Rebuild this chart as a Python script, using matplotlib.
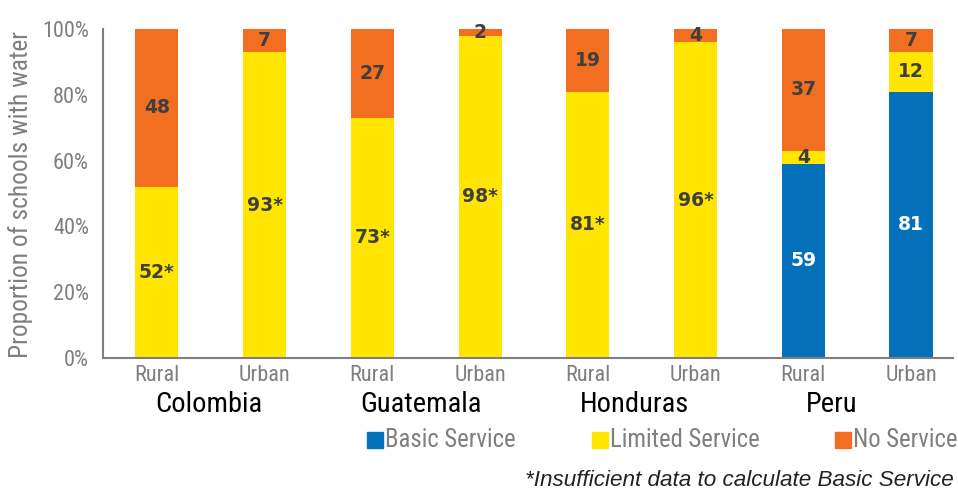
import matplotlib
matplotlib.use("Agg")
import matplotlib.pyplot as plt
from matplotlib import font_manager as fm
import numpy as np

available = {f.name for f in fm.fontManager.ttflist}
candidates = ["Roboto Condensed", "Liberation Sans Narrow", "Archivo Narrow",
              "PT Sans Narrow", "DejaVu Sans Condensed"]
chosen = [c for c in candidates if c in available][:1]
plt.rcParams['font.family'] = chosen + ['DejaVu Sans']

countries = ["Colombia", "Guatemala", "Honduras", "Peru"]
areas = ["Rural", "Urban", "Rural", "Urban", "Rural", "Urban", "Rural", "Urban"]
basic = [0, 0, 0, 0, 0, 0, 59, 81]
limited = [52, 93, 73, 98, 81, 96, 4, 12]
no_service = [48, 7, 27, 2, 19, 4, 37, 7]
limited_labels = ["52*", "93*", "73*", "98*", "81*", "96*", "4", "12"]
series_names = ["Basic Service", "Limited Service", "No Service"]
footnote = "*Insufficient data to calculate Basic Service"
ylabel = "Proportion of schools with water"

c_blue = "#0571BB"
c_yellow = "#FFE500"
c_orange = "#F26F21"
gray = "#7F7F7F"
dark = "#3F3F3F"

fig = plt.figure(figsize=(9.58, 4.92), dpi=100)
ax = fig.add_axes([0.1075, 0.2724, 0.8873, 0.6686])

x = np.arange(len(areas))
w = 0.4
b = np.array(basic, dtype=float)
l = np.array(limited, dtype=float)
n = np.array(no_service, dtype=float)

ax.bar(x, b, w, color=c_blue)
ax.bar(x, l, w, bottom=b, color=c_yellow)
ax.bar(x, n, w, bottom=b + l, color=c_orange)

vkw = dict(ha="center", va="center", fontsize=13.5, fontweight="bold", family="DejaVu Sans")
for i in range(len(x)):
    if b[i] > 0:
        ax.text(x[i], b[i] / 2, f"{int(b[i])}", color="white", **vkw)
    if l[i] > 0:
        ax.text(x[i], b[i] + l[i] / 2, limited_labels[i], color=dark, **vkw)
    if n[i] > 0:
        ax.text(x[i], b[i] + l[i] + n[i] / 2, f"{int(n[i])}", color=dark, **vkw)

ax.set_xlim(-0.5, 7.39)
ax.set_ylim(0, 100)
ax.set_yticks([0, 20, 40, 60, 80, 100])
ax.set_yticklabels([f"{v}%" for v in [0, 20, 40, 60, 80, 100]])
ax.set_xticks(x)
ax.set_xticklabels(areas)
ax.tick_params(axis="both", length=0, colors=gray, labelsize=16)
ax.tick_params(axis="x", pad=5)
ax.tick_params(axis="y", pad=10)
for s in ["top", "right"]:
    ax.spines[s].set_visible(False)
for s in ["left", "bottom"]:
    ax.spines[s].set_color(gray)
    ax.spines[s].set_linewidth(1.5)
fig.text(20.5 / 958, 1 - 195 / 492, ylabel, rotation=90, ha="center", va="center",
         color=gray, fontsize=18.3)

country_px = [209, 421, 634, 832]
for name, px in zip(countries, country_px):
    fig.text(px / 958, 1 - 404 / 492, name, ha="center", va="center",
             fontsize=20.5, color="black")

leg_px = [375, 600, 843]
for col, name, px in zip([c_blue, c_yellow, c_orange], series_names, leg_px):
    fig.patches.append(plt.Rectangle(((px - 8) / 958, 1 - 448 / 492), 16 / 958, 16 / 492,
                                     transform=fig.transFigure, color=col, figure=fig))
    fig.text((px + 10) / 958, 1 - 440 / 492, name, ha="left", va="center",
             fontsize=17.8, color=gray)

fig.text(954 / 958, 1 - 480 / 492, footnote, ha="right", va="center",
         fontsize=16.2, color="#222222", style="italic", family=["Liberation Sans", "DejaVu Sans"])

fig.savefig("out.png", dpi=100)
